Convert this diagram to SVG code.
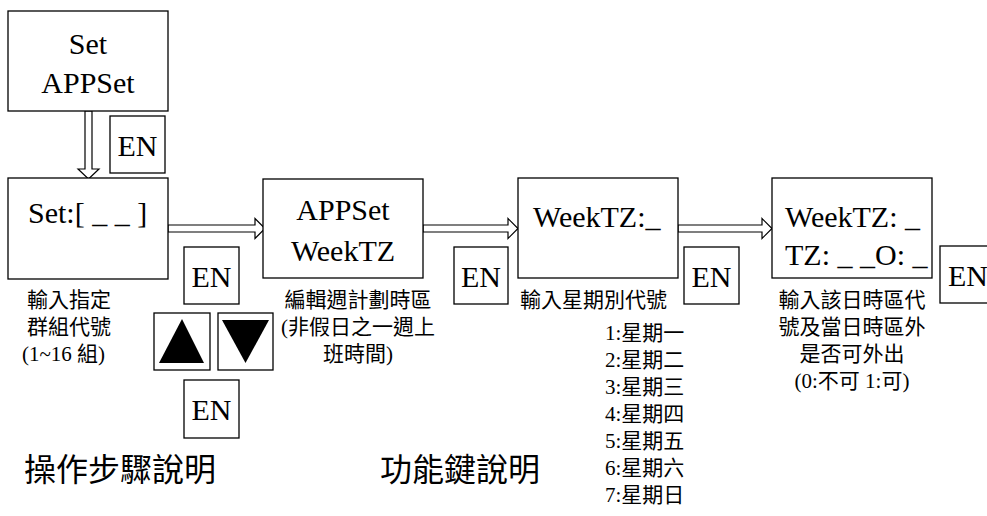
<svg xmlns="http://www.w3.org/2000/svg" width="987" height="516" viewBox="0 0 987 516">
<style>
.box{fill:#fff;stroke:#000;stroke-width:1.3}
.arrow{fill:#fff;stroke:#000;stroke-width:1.2;stroke-linejoin:miter}
.lat{font-size:30px;fill:#000}
.en{font-size:30px;fill:#000;text-anchor:middle}
.cjk{font-size:21px;fill:#000}
.title{font-size:32px;fill:#000}
.tri{fill:#000}
</style>
<rect width="987" height="516" fill="#fff"/>
<g id="connectors">
<polygon class="arrow" points="85,111 85,169 78,169 88.5,179 99,169 92,169 92,111"/>
<polygon class="arrow" points="168,225 255,225 255,218.5 265,228.5 255,238.5 255,232 168,232"/>
<polygon class="arrow" points="423,225 508,225 508,218.5 518,228.5 508,238.5 508,232 423,232"/>
<polygon class="arrow" points="678,225 762,225 762,218.5 772,228.5 762,238.5 762,232 678,232"/>
</g>
<g font-family="'Liberation Serif', 'Noto Sans CJK TC', serif">
<g id="node-set-appset">
<rect class="box" x="8" y="11" width="160" height="100"/>
<text class="en" x="88" y="54">Set</text>
<text class="en" x="88" y="93">APPSet</text>
</g>
<g id="en-1">
<rect class="box" x="110" y="116" width="55" height="57"/>
<text class="en" x="137.5" y="156">EN</text>
</g>
<g id="node-set-group">
<rect class="box" x="8" y="178" width="160" height="101"/>
<text class="lat" x="28" y="223">Set:[ _ _ ]</text>
<text class="cjk" x="27" y="307">輸入指定</text>
<text class="cjk" x="27" y="334">群組代號</text>
<text class="cjk" x="22" y="361">(1~16 組)</text>
</g>
<g id="en-2">
<rect class="box" x="184" y="247" width="55" height="57"/>
<text class="en" x="211.5" y="287">EN</text>
</g>
<g id="key-up">
<rect class="box" x="154" y="313" width="56" height="57"/>
<polygon class="tri" points="182,319 204,363 159,363"/>
</g>
<g id="key-down">
<rect class="box" x="218" y="313" width="55" height="57"/>
<polygon class="tri" points="222,320 269,320 245.5,363"/>
</g>
<g id="en-3">
<rect class="box" x="184" y="380" width="55" height="58"/>
<text class="en" x="211.5" y="420">EN</text>
</g>
<g id="node-appset-weektz">
<rect class="box" x="263" y="179" width="160" height="99"/>
<text class="en" x="343" y="220">APPSet</text>
<text class="en" x="343" y="261">WeekTZ</text>
<text class="cjk" x="358" y="307" text-anchor="middle">編輯週計劃時區</text>
<text class="cjk" x="358" y="334" text-anchor="middle">(非假日之一週上</text>
<text class="cjk" x="358" y="361" text-anchor="middle">班時間)</text>
</g>
<g id="en-4">
<rect class="box" x="454" y="247" width="54" height="57"/>
<text class="en" x="481" y="287">EN</text>
</g>
<g id="node-weektz">
<rect class="box" x="518" y="178" width="160" height="100"/>
<text class="lat" x="533" y="227">WeekTZ:_</text>
<text class="cjk" x="520" y="307">輸入星期別代號</text>
<text class="cjk" x="605" y="340">1:星期一</text>
<text class="cjk" x="605" y="367">2:星期二</text>
<text class="cjk" x="605" y="394">3:星期三</text>
<text class="cjk" x="605" y="421">4:星期四</text>
<text class="cjk" x="605" y="448">5:星期五</text>
<text class="cjk" x="605" y="475">6:星期六</text>
<text class="cjk" x="605" y="502">7:星期日</text>
</g>
<g id="en-5">
<rect class="box" x="684" y="247" width="55" height="57"/>
<text class="en" x="711.5" y="287">EN</text>
</g>
<g id="node-weektz-tz">
<rect class="box" x="772" y="178" width="160" height="100"/>
<text class="lat" x="785" y="227">WeekTZ: _</text>
<text class="lat" x="785" y="265">TZ: _ _O: _</text>
<text class="cjk" x="852" y="307" text-anchor="middle">輸入該日時區代</text>
<text class="cjk" x="852" y="334" text-anchor="middle">號及當日時區外</text>
<text class="cjk" x="852" y="361" text-anchor="middle">是否可外出</text>
<text class="cjk" x="852" y="388" text-anchor="middle">(0:不可 1:可)</text>
</g>
<g id="en-6">
<rect class="box" x="940" y="246" width="56" height="57"/>
<text class="en" x="968" y="286">EN</text>
</g>
</g>
<g id="titles" font-family="'Noto Sans CJK TC', sans-serif">
<text class="title" x="24" y="481">操作步驟說明</text>
<text class="title" x="380" y="481">功能鍵說明</text>
</g>
</svg>
